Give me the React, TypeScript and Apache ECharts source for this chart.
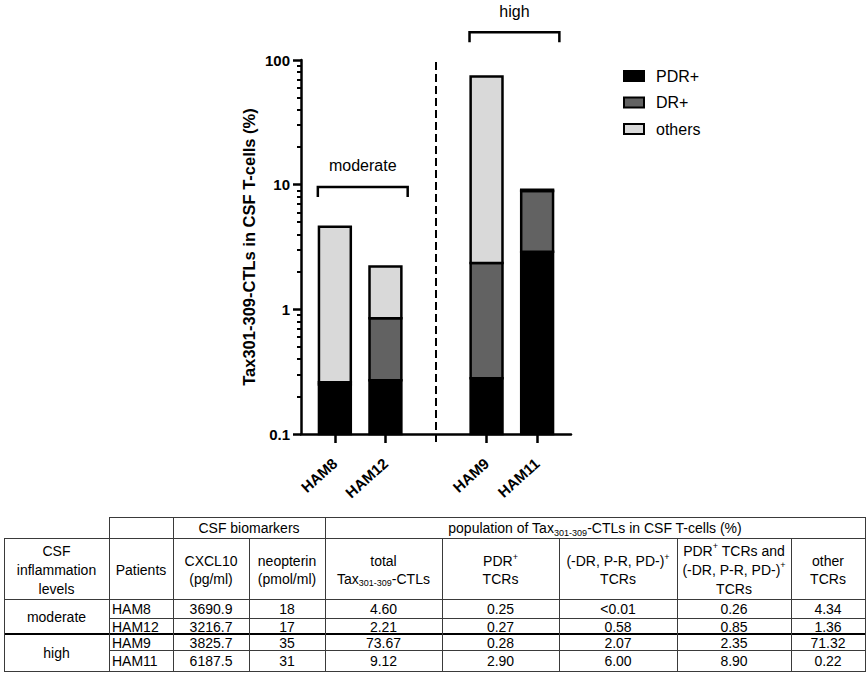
import React, { useEffect, useRef } from "react";
import * as echarts from "echarts";

// ---------- data ----------
const patients = ["HAM8", "HAM12", "HAM9", "HAM11"];
const patientPos = [0, 1, 3, 4]; // position 2 is the gap between groups
const levels = ["moderate", "high"];
const levelPatients = [
  [0, 1],
  [2, 3],
];
const cxcl10 = [3690.9, 3216.7, 3825.7, 6187.5];
const neopterin = [18, 17, 35, 31];
const totalCtl = [4.6, 2.21, 73.67, 9.12];
const pdrPlus = [0.25, 0.27, 0.28, 2.9];
const drPlus = [0.01, 0.58, 2.07, 6.0]; // HAM8 is "<0.01"
const pdrAndDr = [0.26, 0.85, 2.35, 8.9];
const otherTcr = [4.34, 1.36, 71.32, 0.22];
const seriesNames = ["PDR+", "DR+", "others"];
const seriesColors = ["#000000", "#626262", "#d9d9d9"];
const yMajorTicks = [0.1, 1, 10, 100];
const yMinorTicks = [
  0.2, 0.3, 0.4, 0.5, 0.6, 0.7, 0.8, 0.9, 2, 3, 4, 5, 6, 7, 8, 9, 20, 30, 40,
  50, 60, 70, 80, 90,
];

// ---------- layout ----------
const FONT = "'Liberation Sans', Arial, Helvetica, sans-serif";
const Y_MIN = 0.1;
const Y_MAX = 100;
const BAR_HALF = 0.315;
const COLS = [4, 109, 173, 249, 325, 442, 559, 677, 791, 865];
const ROWS = [517, 538, 599, 618, 634, 650, 671];
const BRACKETS = [
  { group: 0, level: 9.6 },
  { group: 1, level: 167 },
];

const fmt2 = (v: number) => v.toFixed(2);
const drText = (v: number) => (v <= 0.01 ? "<0.01" : v.toFixed(2));

const richStyles = {
  sub: { fontSize: 9, lineHeight: 10, verticalAlign: "bottom", fontFamily: FONT, fill: "#000" },
  sup: { fontSize: 9, lineHeight: 10, verticalAlign: "top", fontFamily: FONT, fill: "#000" },
};

function textEl(x: number, y: number, text: string, align = "center", lh = 18) {
  return {
    type: "text",
    x,
    y,
    z: 100,
    silent: true,
    style: {
      text,
      fontFamily: FONT,
      fontSize: 14,
      lineHeight: lh,
      fill: "#000",
      align,
      verticalAlign: "middle",
      rich: richStyles,
    },
  };
}

function lineEl(x1: number, y1: number, x2: number, y2: number, w = 1, color = "#3a3a3a") {
  return {
    type: "line",
    z: 100,
    silent: true,
    shape: { x1, y1, x2, y2 },
    style: { stroke: color, lineWidth: w },
  };
}

function buildTable() {
  const els: any[] = [];
  const L = COLS[0];
  const R = COLS[COLS.length - 1];
  const h = (y: number, x1: number) => els.push(lineEl(x1, y + 0.5, R + 1, y + 0.5));
  const v = (x: number, y1: number) => els.push(lineEl(x + 0.5, y1, x + 0.5, ROWS[6] + 1));
  h(ROWS[0], COLS[1]);
  h(ROWS[1], L);
  h(ROWS[2], L);
  h(ROWS[3], COLS[1]);
  h(ROWS[5], COLS[1]);
  h(ROWS[6], L);
  els.push(lineEl(L, ROWS[4], R + 1, ROWS[4], 2, "#000"));
  v(COLS[0], ROWS[1]);
  v(COLS[1], ROWS[0]);
  v(COLS[2], ROWS[0]);
  v(COLS[3], ROWS[1]);
  v(COLS[4], ROWS[0]);
  v(COLS[5], ROWS[1]);
  v(COLS[6], ROWS[1]);
  v(COLS[7], ROWS[1]);
  v(COLS[8], ROWS[1]);
  v(COLS[9], ROWS[0]);

  const cx = (i: number) => (COLS[i] + COLS[i + 1]) / 2;
  const y1 = (ROWS[0] + ROWS[1]) / 2 + 0.5;
  els.push(textEl((COLS[2] + COLS[4]) / 2, y1, "CSF biomarkers"));
  els.push(
    textEl((COLS[4] + COLS[9]) / 2, y1, "population of Tax{sub|301-309}-CTLs in CSF T-cells (%)")
  );
  const y2 = (ROWS[1] + ROWS[2]) / 2 + 1.5;
  const heads = [
    "CSF\ninflammation\nlevels",
    "Patients",
    "CXCL10\n(pg/ml)",
    "neopterin\n(pmol/ml)",
    "total\nTax{sub|301-309}-CTLs",
    "PDR{sup|+}\nTCRs",
    "(-DR, P-R, PD-){sup|+}\nTCRs",
    "PDR{sup|+} TCRs and\n(-DR, P-R, PD-){sup|+}\nTCRs",
    "other\nTCRs",
  ];
  heads.forEach((t, i) => {
    const lines = t.split("\n").length;
    els.push(textEl(cx(i), y2, t, "center", lines === 3 ? 19 : 17.5));
  });

  // level cells
  levels.forEach((lv, g) => {
    const rows = levelPatients[g];
    const top = ROWS[2 + rows[0]];
    const bot = ROWS[3 + rows[rows.length - 1]];
    els.push(textEl(cx(0), (top + bot) / 2 + 0.5, lv));
  });
  patients.forEach((p, i) => {
    const y = (ROWS[2 + i] + ROWS[3 + i]) / 2 + 0.5;
    const cells = [
      cxcl10[i].toFixed(1),
      String(neopterin[i]),
      fmt2(totalCtl[i]),
      fmt2(pdrPlus[i]),
      drText(drPlus[i]),
      fmt2(pdrAndDr[i]),
      fmt2(otherTcr[i]),
    ];
    els.push(textEl(COLS[1] + 3, y, p, "left"));
    cells.forEach((c, k) => els.push(textEl(cx(k + 2), y, c)));
  });
  return els;
}

export default function App() {
  const ref = useRef<HTMLDivElement>(null);
  useEffect(() => {
    if (!ref.current) return;
    const chart = echarts.init(ref.current, undefined, { renderer: "svg" });

    const lows: number[][] = [[], [], []];
    const highs: number[][] = [[], [], []];
    patients.forEach((_, i) => {
      const a = pdrPlus[i];
      const b = a + drPlus[i];
      const c = b + otherTcr[i];
      lows[0].push(Y_MIN);
      highs[0].push(a);
      lows[1].push(a);
      highs[1].push(b);
      lows[2].push(b);
      highs[2].push(c);
    });

    const series = seriesNames.map((name, s) => ({
      type: "custom",
      name,
      xAxisIndex: 0,
      yAxisIndex: 0,
      itemStyle: { color: seriesColors[s] },
      encode: { x: 0, y: [1, 2] },
      data: patientPos.map((p, i) => [p, lows[s][i], highs[s][i]]),
      renderItem: (_params: any, api: any) => {
        const x = api.value(0);
        const lo = api.value(1);
        const hi = api.value(2);
        const top = api.coord([x, hi]);
        const bot = api.coord([x, lo]);
        const l = api.coord([x - BAR_HALF, hi])[0];
        const r = api.coord([x + BAR_HALF, hi])[0];
        return {
          type: "rect",
          shape: { x: l, y: top[1], width: r - l, height: bot[1] - top[1] },
          style: { fill: api.visual("color"), stroke: "#000", lineWidth: 2.5 },
        };
      },
    }));

    const axisLine = { show: true, onZero: false, lineStyle: { color: "#000", width: 2.5 } };
    const option: any = {
      animation: false,
      backgroundColor: "#ffffff",
      textStyle: { fontFamily: FONT },
      grid: { left: 301, right: 296, top: 60, bottom: 243 },
      legend: {
        orient: "vertical",
        left: 618,
        top: 63,
        itemWidth: 20,
        itemHeight: 10,
        itemGap: 10.5,
        icon: "rect",
        itemStyle: { borderColor: "#000", borderWidth: 2 },
        textStyle: { fontSize: 16, color: "#000", fontFamily: FONT, padding: [0, 0, 0, 7] },
        data: seriesNames,
      },
      xAxis: {
        type: "value",
        min: -0.67,
        max: 4.67,
        splitLine: { show: false },
        axisLine,
        axisTick: {
          show: true,
          customValues: patientPos,
          length: 9,
          lineStyle: { color: "#000", width: 2.5 },
        },
        axisLabel: {
          customValues: patientPos,
          formatter: (v: number) => patients[patientPos.indexOf(v)] ?? "",
          rotate: 42,
          fontWeight: "bold",
          fontSize: 15,
          color: "#000",
          fontFamily: FONT,
          margin: 27,
        },
      },
      yAxis: [
        {
          type: "log",
          logBase: 10,
          min: Y_MIN,
          max: Y_MAX,
          position: "left",
          name: "Tax301-309-CTLs in CSF T-cells (%)",
          nameLocation: "middle",
          nameGap: 44,
          nameTextStyle: { fontSize: 16.5, fontWeight: "bold", color: "#000", fontFamily: FONT },
          axisLine,
          axisTick: {
            show: true,
            customValues: yMajorTicks,
            length: 8,
            lineStyle: { color: "#000", width: 2.5 },
          },
          axisLabel: {
            customValues: yMajorTicks,
            formatter: (v: number) => String(v),
            fontSize: 15,
            fontWeight: "bold",
            color: "#000",
            fontFamily: FONT,
            margin: 11,
          },
          splitLine: { show: false },
        },
        {
          type: "log",
          logBase: 10,
          min: Y_MIN,
          max: Y_MAX,
          position: "left",
          offset: 0,
          axisLine: { show: false, onZero: false },
          axisTick: {
            show: true,
            customValues: yMinorTicks,
            length: 4,
            lineStyle: { color: "#000", width: 2 },
          },
          axisLabel: { show: false },
          splitLine: { show: false },
        },
      ],
      series,
    };
    chart.setOption(option);

    const px = (x: number, y: number) =>
      chart.convertToPixel({ xAxisIndex: 0, yAxisIndex: 0 }, [x, y]) as number[];
    const g: any[] = [];
    // dashed separator between groups
    const sepTop = px(2, Y_MAX);
    const sepBot = px(2, Y_MIN);
    g.push({
      type: "line",
      z: 50,
      shape: { x1: sepTop[0], y1: sepTop[1] + 2, x2: sepBot[0], y2: sepBot[1] + 9 },
      style: { stroke: "#000", lineWidth: 2, lineDash: [8, 4] },
    });
    BRACKETS.forEach((b) => {
      const ps = levelPatients[b.group].map((i) => patientPos[i]);
      const a = px(ps[0] - 0.337, b.level);
      const c = px(ps[ps.length - 1] + 0.44, b.level);
      g.push({
        type: "polyline",
        z: 50,
        shape: {
          points: [
            [a[0], a[1] + 10],
            [a[0], a[1]],
            [c[0], c[1]],
            [c[0], c[1] + 10],
          ],
        },
        style: { stroke: "#000", lineWidth: 2.5, fill: null },
      });
      g.push({
        type: "text",
        z: 50,
        x: (a[0] + c[0]) / 2,
        y: a[1] - 21,
        style: {
          text: levels[b.group],
          fontFamily: FONT,
          fontSize: 16,
          fill: "#000",
          align: "center",
          verticalAlign: "middle",
        },
      });
    });
    g.push(...buildTable());
    chart.setOption({ graphic: { elements: g } });

    return () => chart.dispose();
  }, []);
  return (
    <div
      ref={ref}
      style={{ position: "fixed", left: 0, top: 0, width: 867, height: 677, background: "#fff" }}
    />
  );
}
